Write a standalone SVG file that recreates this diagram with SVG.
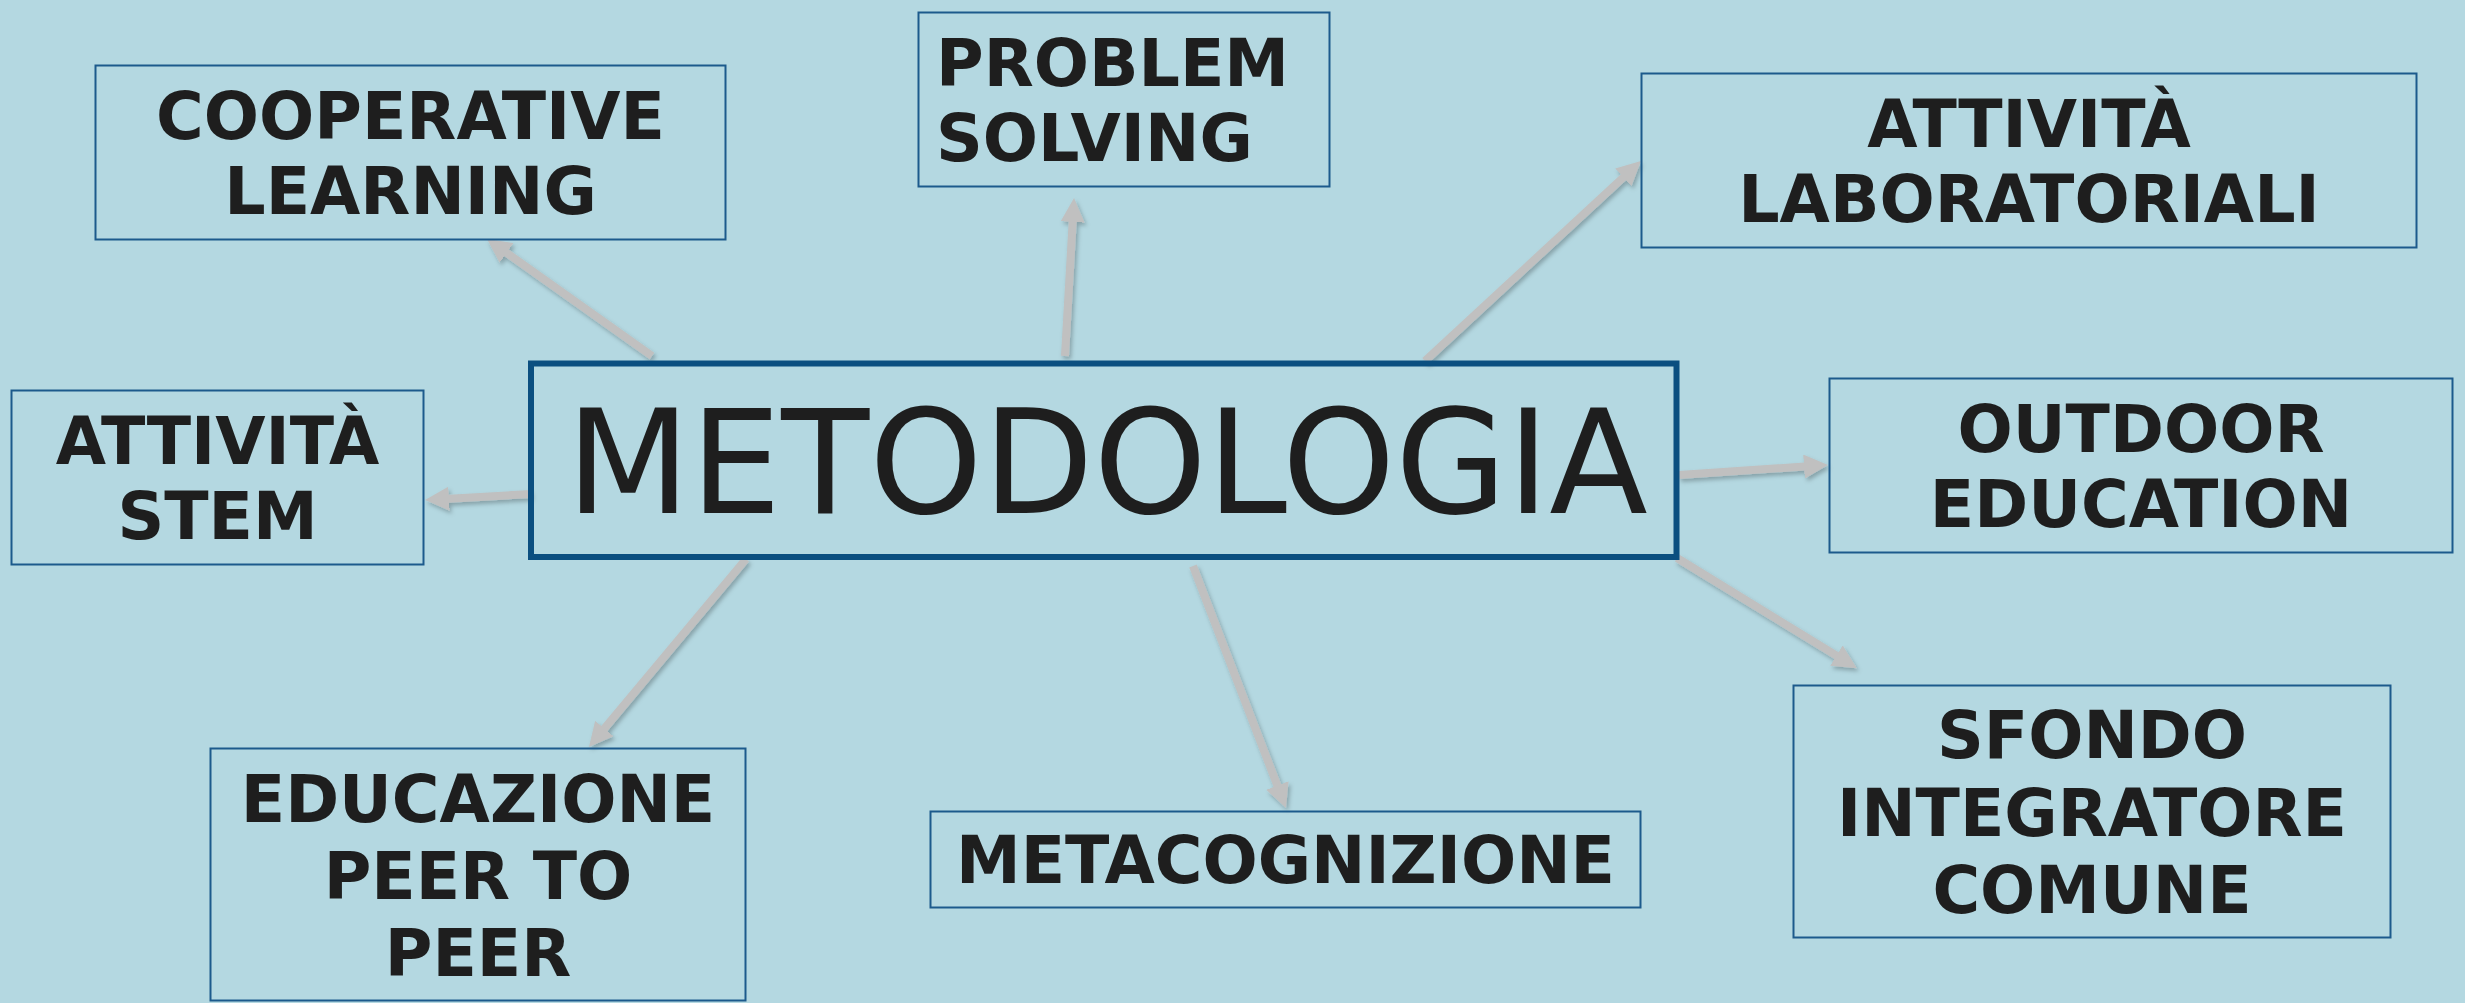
<svg xmlns="http://www.w3.org/2000/svg" width="2465" height="1003" viewBox="0 0 2465 1003">
<style>
.bg{fill:#b4d8e1}
.node{fill:none;stroke:#1c5a8c;stroke-width:2}
.main{fill:none;stroke:#0b4f80;stroke-width:6}
.lbl{font-family:"DejaVu Sans","Verdana",sans-serif;font-weight:bold;font-size:65px;fill:#1e1e1e;text-anchor:middle}
.big{font-family:"DejaVu Sans","Verdana",sans-serif;font-size:144px;fill:#1e1e1e;text-anchor:middle}
.arr{fill:none;stroke:#c0c0c0;stroke-width:8;marker-end:url(#ah)}
</style>
<defs>
<marker id="ah" viewBox="0 0 24 24" refX="4" refY="12" markerWidth="24" markerHeight="24" markerUnits="userSpaceOnUse" orient="auto">
<path d="M0,0 L24,12 L0,24 z" fill="#c0c0c0"/>
</marker>
<filter id="sh" filterUnits="userSpaceOnUse" x="0" y="0" width="2465" height="1003">
<feDropShadow dx="2" dy="3" stdDeviation="2" flood-color="#000" flood-opacity="0.25"/>
</filter>
</defs>
<rect class="bg" x="0" y="0" width="2465" height="1003"/>
<g id="connectors" filter="url(#sh)">
<line class="arr" x1="652" y1="356" x2="503.3" y2="250.6"/>
<line class="arr" x1="1065" y1="356" x2="1072.9" y2="218"/>
<line class="arr" x1="1425" y1="361" x2="1626.3" y2="174.6"/>
<line class="arr" x1="531" y1="494" x2="445" y2="498.9"/>
<line class="arr" x1="1679" y1="475" x2="1808" y2="466.3"/>
<line class="arr" x1="1677" y1="558" x2="1839.8" y2="657.7"/>
<line class="arr" x1="1193" y1="566" x2="1278.8" y2="789.3"/>
<line class="arr" x1="746" y1="559" x2="601.8" y2="731.6"/>
</g>
<g id="metodologia">
<rect class="main" x="531" y="363.5" width="1145.5" height="193.5"/>
<text class="big" x="1107" y="513">METODOLOGIA</text>
</g>
<g id="cooperative-learning">
<rect class="node" x="95.5" y="65.5" width="630" height="174"/>
<text class="lbl" x="410.5" y="139">COOPERATIVE</text>
<text class="lbl" x="410.5" y="214">LEARNING</text>
</g>
<g id="problem-solving">
<rect class="node" x="918.5" y="12.5" width="411" height="174"/>
<text class="lbl" x="936" y="86" style="text-anchor:start">PROBLEM</text>
<text class="lbl" x="936" y="161" style="text-anchor:start">SOLVING</text>
</g>
<g id="attivita-laboratoriali">
<rect class="node" x="1641.5" y="73.5" width="775" height="174"/>
<text class="lbl" x="2029" y="147">ATTIVITÀ</text>
<text class="lbl" x="2029" y="222">LABORATORIALI</text>
</g>
<g id="outdoor-education">
<rect class="node" x="1829.5" y="378.5" width="623" height="174"/>
<text class="lbl" x="2141" y="452">OUTDOOR</text>
<text class="lbl" x="2141" y="527">EDUCATION</text>
</g>
<g id="attivita-stem">
<rect class="node" x="11.5" y="390.5" width="412" height="174"/>
<text class="lbl" x="217.5" y="464">ATTIVITÀ</text>
<text class="lbl" x="217.5" y="539">STEM</text>
</g>
<g id="educazione-peer">
<rect class="node" x="210.5" y="748.5" width="535" height="252"/>
<text class="lbl" x="478" y="822">EDUCAZIONE</text>
<text class="lbl" x="478" y="899">PEER TO</text>
<text class="lbl" x="478" y="976">PEER</text>
</g>
<g id="metacognizione">
<rect class="node" x="930.5" y="811.5" width="710" height="96"/>
<text class="lbl" x="1285.5" y="883">METACOGNIZIONE</text>
</g>
<g id="sfondo-integratore">
<rect class="node" x="1793.5" y="685.5" width="597" height="252"/>
<text class="lbl" x="2092" y="758">SFONDO</text>
<text class="lbl" x="2092" y="836">INTEGRATORE</text>
<text class="lbl" x="2092" y="913">COMUNE</text>
</g>
</svg>
